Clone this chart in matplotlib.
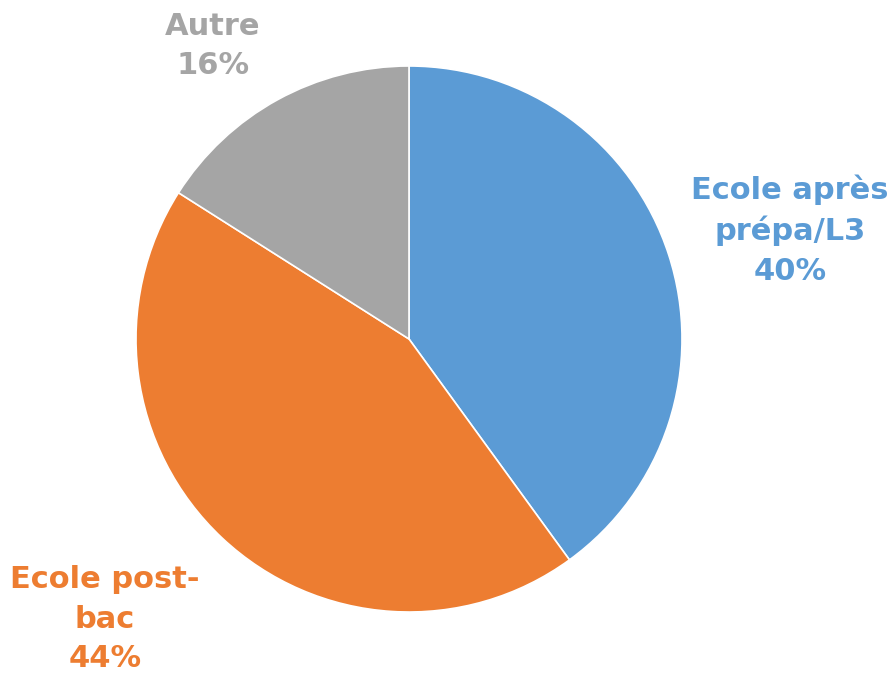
import matplotlib
matplotlib.use("Agg")
import matplotlib.pyplot as plt

categories = ["Ecole après\nprépa/L3", "Ecole post-\nbac", "Autre"]
values = [40, 44, 16]
colors = ["#5B9BD5", "#ED7D31", "#A5A5A5"]

W, H = 896, 674
fig = plt.figure(figsize=(W / 100, H / 100), dpi=100)
ax = fig.add_axes([0, 0, 1, 1])

cx, cy, r = 409, H - 339, 273
ax.pie(values, colors=colors, startangle=90, counterclock=False,
       center=(cx, cy), radius=r, frame=True,
       wedgeprops=dict(edgecolor="white", linewidth=1.2))
ax.set_xlim(0, W)
ax.set_ylim(0, H)
ax.set_aspect("equal")
ax.axis("off")

label_pos = [(790, H - 230), (105, H - 619), (213, H - 46)]
for cat, v, c, (x, y) in zip(categories, values, colors, label_pos):
    ax.text(x, y, f"{cat}\n{v}%", color=c, fontsize=22, fontweight="bold",
            ha="center", va="center", linespacing=1.45)

fig.savefig("out.png", dpi=100)
